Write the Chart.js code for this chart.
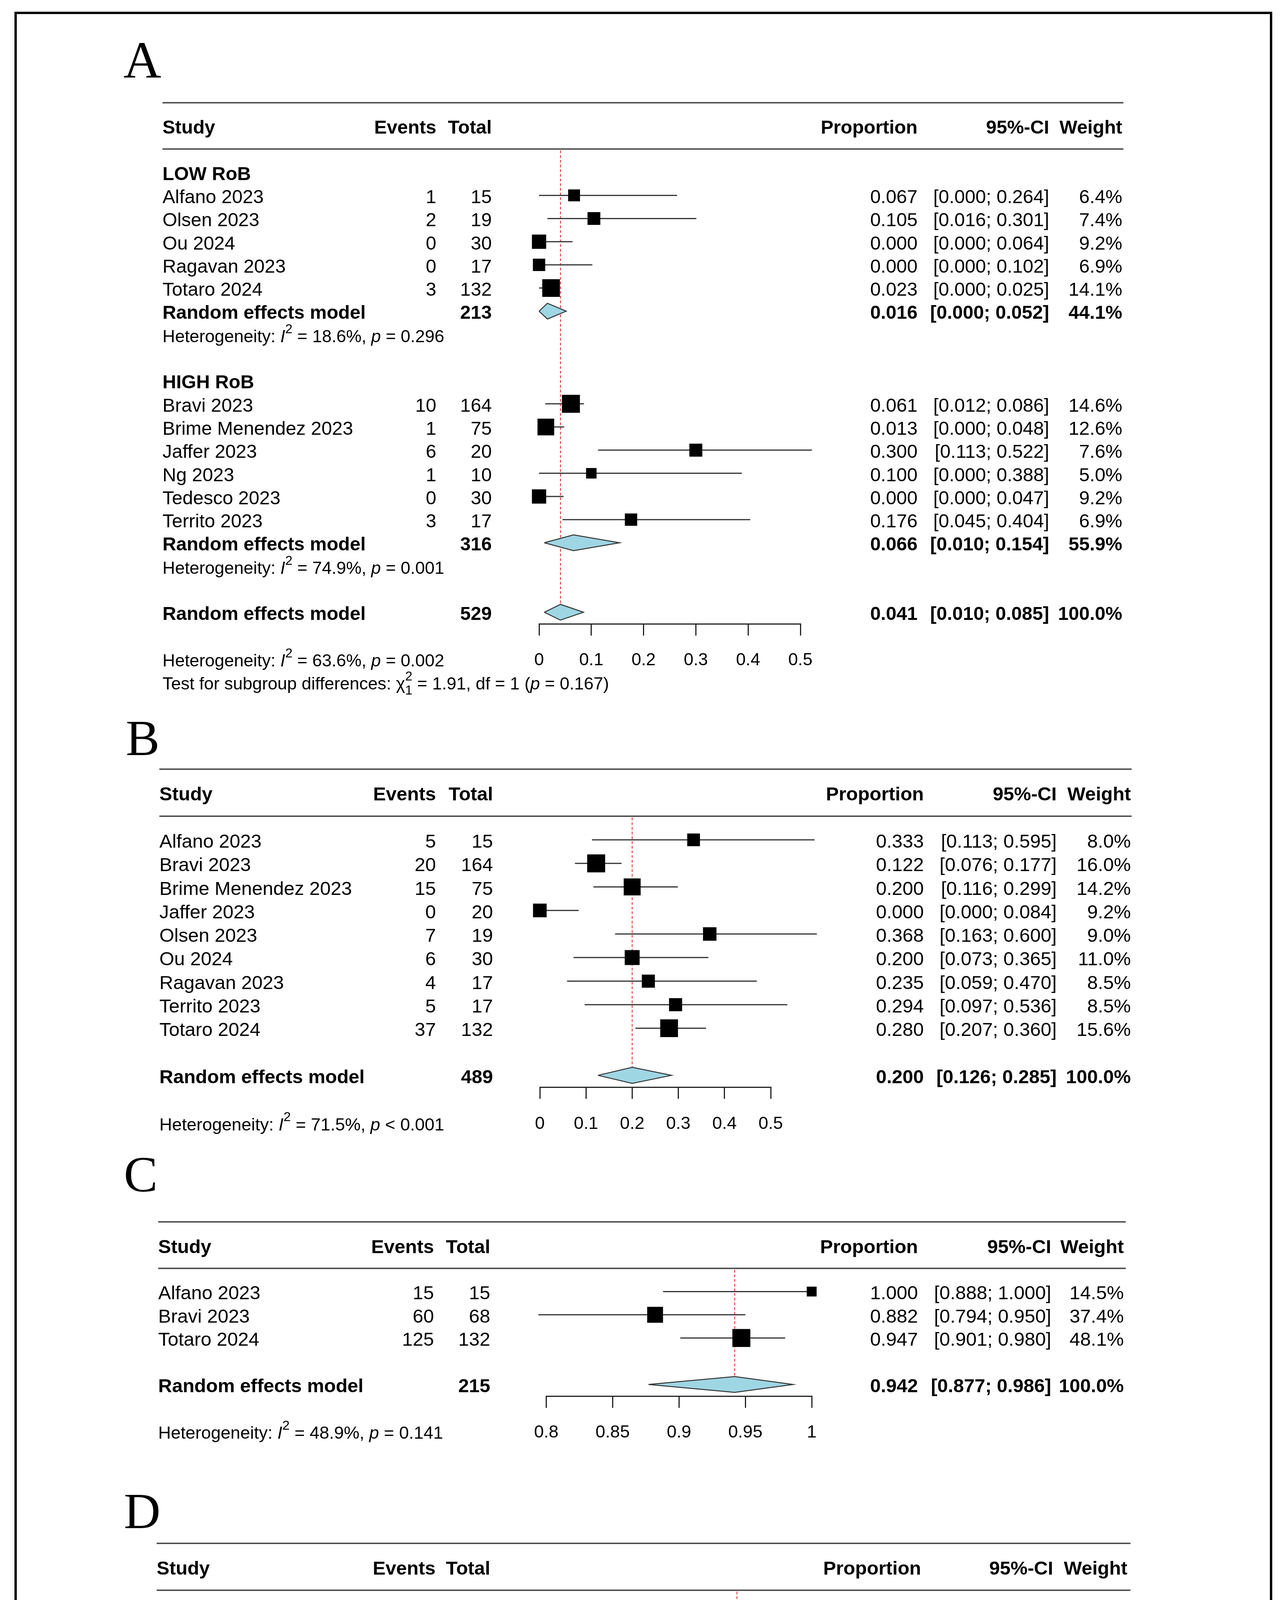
<!DOCTYPE html>
<html><head><meta charset="utf-8"><title>Forest plots A-D</title>
<script src="https://cdn.jsdelivr.net/npm/chart.js@4.4.1/dist/chart.umd.min.js"></script>
<style>
html,body{margin:0;padding:0;background:#fff}
body{position:relative;width:3282px;height:4883px;overflow:hidden}
#frame{position:absolute;left:37px;top:30px;width:3208px;height:4813px;border:6px solid #000}
canvas{position:absolute;left:0}
</style></head>
<body>
<div id="frame"></div>
<canvas id="chartA"></canvas><canvas id="chartB"></canvas><canvas id="chartC"></canvas><canvas id="chartD"></canvas>
<script>
// ================= DATA =================
// Panel A, subgroup LOW RoB
const aLowStudy  = ["Alfano 2023","Olsen 2023","Ou 2024","Ragavan 2023","Totaro 2024"];
const aLowEvents = [1,2,0,0,3];
const aLowTotal  = [15,19,30,17,132];
const aLowProp   = [0.067,0.105,0.000,0.000,0.023];
const aLowLower  = [0.000,0.016,0.000,0.000,0.000];
const aLowUpper  = [0.264,0.301,0.064,0.102,0.025];
const aLowWeight = [6.4,7.4,9.2,6.9,14.1];
const aLowModel  = [213,0.016,0.000,0.052,44.1];   // total, proportion, lower, upper, weight
const aLowHet    = ["18.6%","= 0.296"];
// Panel A, subgroup HIGH RoB
const aHighStudy  = ["Bravi 2023","Brime Menendez 2023","Jaffer 2023","Ng 2023","Tedesco 2023","Territo 2023"];
const aHighEvents = [10,1,6,1,0,3];
const aHighTotal  = [164,75,20,10,30,17];
const aHighProp   = [0.061,0.013,0.300,0.100,0.000,0.176];
const aHighLower  = [0.012,0.000,0.113,0.000,0.000,0.045];
const aHighUpper  = [0.086,0.048,0.522,0.388,0.047,0.404];
const aHighWeight = [14.6,12.6,7.6,5.0,9.2,6.9];
const aHighModel  = [316,0.066,0.010,0.154,55.9];
const aHighHet    = ["74.9%","= 0.001"];
// Panel A, overall
const aModel = [529,0.041,0.010,0.085,100.0];
const aHet   = ["63.6%","= 0.002"];
const aSubgroupTest = ["1.91","1","0.167"];  // chi-square, df, p
const aTicks = [0,0.1,0.2,0.3,0.4,0.5];

// Panel B
const bStudy  = ["Alfano 2023","Bravi 2023","Brime Menendez 2023","Jaffer 2023","Olsen 2023","Ou 2024","Ragavan 2023","Territo 2023","Totaro 2024"];
const bEvents = [5,20,15,0,7,6,4,5,37];
const bTotal  = [15,164,75,20,19,30,17,17,132];
const bProp   = [0.333,0.122,0.200,0.000,0.368,0.200,0.235,0.294,0.280];
const bLower  = [0.113,0.076,0.116,0.000,0.163,0.073,0.059,0.097,0.207];
const bUpper  = [0.595,0.177,0.299,0.084,0.600,0.365,0.470,0.536,0.360];
const bWeight = [8.0,16.0,14.2,9.2,9.0,11.0,8.5,8.5,15.6];
const bModel  = [489,0.200,0.126,0.285,100.0];
const bHet    = ["71.5%","< 0.001"];
const bTicks  = [0,0.1,0.2,0.3,0.4,0.5];

// Panel C
const cStudy  = ["Alfano 2023","Bravi 2023","Totaro 2024"];
const cEvents = [15,60,125];
const cTotal  = [15,68,132];
const cProp   = [1.000,0.882,0.947];
const cLower  = [0.888,0.794,0.901];
const cUpper  = [1.000,0.950,0.980];
const cWeight = [14.5,37.4,48.1];
const cModel  = [215,0.942,0.877,0.986,100.0];
const cHet    = ["48.9%","= 0.141"];
const cTicks  = [0.8,0.85,0.9,0.95,1];

// Panel D
const dStudy  = ["Bravi 2023","Brime Menendez 2023","Ng 2023","Olsen 2023","Ou 2024","Ragavan 2023","Totaro 2024"];
const dEvents = [133,66,8,11,23,17,100];
const dTotal  = [164,75,10,19,30,17,132];
const dProp   = [0.811,0.880,0.800,0.579,0.767,1.000,0.758];
const dLower  = [0.747,0.795,0.487,0.348,0.596,0.901,0.680];
const dUpper  = [0.868,0.945,0.995,0.794,0.903,1.000,0.827];
const dWeight = [21.3,18.2,6.9,10.3,13.1,9.7,20.6];
const dModel  = [447,0.819,0.738,0.889,100.0];
const dHet    = ["66.9%","= 0.006"];
const dTicks  = [0.4,0.5,0.6,0.7,0.8,0.9,1];

// ================= LAYOUT (pixels) =================
const SANS = '"Liberation Sans", Arial, Helvetica, sans-serif';
const SERIF = '"Liberation Serif", "Times New Roman", serif';
const PAGE_W = 3282;
const XAXIS_H = 140;
const TICK_LEN = 30;
const DIAMOND_HALF = 0.34;   // rows
const MAX_SQUARE = 46;       // px side of the heaviest study's square
const LAYOUT = {
  A:{canvasTop:40,  canvasH:1760, lineY:263,  axisY:1597, xMinPx:1380,   xMaxPx:2049,
     study:416, events:1117, total:1259, prop:2349, ci:2686, weight:2873, lineR:2876,
     fs:48.5, sfs:44.5, letterX:316, letterY:198,  letterSize:134},
  B:{canvasTop:1800, canvasH:1140, lineY:1969, axisY:2783, xMinPx:1382,   xMaxPx:1973,
     study:408, events:1116, total:1262, prop:2365, ci:2705, weight:2895, lineR:2897,
     fs:49, sfs:45, letterX:322, letterY:1933, letterSize:130},
  C:{canvasTop:2940, canvasH:820,  lineY:3128, axisY:3574, xMinPx:1398.5, xMaxPx:2078,
     study:405, events:1111, total:1255, prop:2350, ci:2691, weight:2877, lineR:2882,
     fs:49, sfs:45, letterX:317, letterY:3050, letterSize:130},
  D:{canvasTop:3760, canvasH:1070, lineY:3951, axisY:4641, xMinPx:1432,   xMaxPx:2083,
     study:401, events:1115, total:1255, prop:2358, ci:2696, weight:2886, lineR:2894,
     fs:49, sfs:45, letterX:317, letterY:3912, letterSize:130}
};

// ================= SPECS =================
const SPECS = {
  A:{groups:[
      {label:"LOW RoB", study:aLowStudy, events:aLowEvents, total:aLowTotal, prop:aLowProp, lower:aLowLower, upper:aLowUpper, weight:aLowWeight, model:aLowModel, het:aLowHet},
      {label:"HIGH RoB", study:aHighStudy, events:aHighEvents, total:aHighTotal, prop:aHighProp, lower:aHighLower, upper:aHighUpper, weight:aHighWeight, model:aHighModel, het:aHighHet}],
     overall:aModel, het:aHet, test:aSubgroupTest, ticks:aTicks},
  B:{groups:[{label:null, study:bStudy, events:bEvents, total:bTotal, prop:bProp, lower:bLower, upper:bUpper, weight:bWeight, model:null, het:null}],
     overall:bModel, het:bHet, test:null, ticks:bTicks},
  C:{groups:[{label:null, study:cStudy, events:cEvents, total:cTotal, prop:cProp, lower:cLower, upper:cUpper, weight:cWeight, model:null, het:null}],
     overall:cModel, het:cHet, test:null, ticks:cTicks},
  D:{groups:[{label:null, study:dStudy, events:dEvents, total:dTotal, prop:dProp, lower:dLower, upper:dUpper, weight:dWeight, model:null, het:null}],
     overall:dModel, het:dHet, test:null, ticks:dTicks}
};

const f3 = v => v.toFixed(3);
const ciStr = (lo,hi) => "[" + f3(lo) + "; " + f3(hi) + "]";
const pct = w => w.toFixed(1) + "%";
const modelItem = (m,row,overall) => ({type:"model", row, overall, tot:m[0], est:m[1], lo:m[2], hi:m[3], w:m[4]});

function buildRows(spec){
  const items = []; let r = 0;
  spec.groups.forEach(g => {
    if (g.label) items.push({type:"group", row:r++, text:g.label});
    g.study.forEach((s,i) => items.push({type:"study", row:r++, name:s, ev:g.events[i], tot:g.total[i],
      est:g.prop[i], lo:g.lower[i], hi:g.upper[i], w:g.weight[i]}));
    if (g.model){
      items.push(modelItem(g.model, r++, false));
      items.push({type:"het", row:r++, het:g.het});
    }
    r++;
  });
  const oRow = r;
  items.push(modelItem(spec.overall, oRow, true));
  items.push({type:"het", row:oRow+2, het:spec.het});
  if (spec.test) items.push({type:"test", row:oRow+3, test:spec.test});
  return {items, oRow, axisRow:oRow+0.5};
}

function drawRich(ctx, segs, x, y, size){
  let cx = x;
  ctx.textAlign = "left";
  segs.forEach(s => {
    const small = s.sup || s.sub;
    const sz = small ? size*0.75 : size;
    ctx.font = (s.italic ? "italic " : "") + sz + "px " + SANS;
    let dy = 0;
    if (s.sup) dy = -0.52*size;
    if (s.sub) dy = 0.28*size;
    ctx.fillText(s.t, cx, y+dy);
    if (!s.stack) cx += ctx.measureText(s.t).width;
  });
}

function tablePlugin(key, L, items){
  return {
    id:"table"+key,
    afterDraw(chart){
      const ctx = chart.ctx;
      const ys = chart.scales.y;
      const Y = r => ys.getPixelForValue(r);
      const base = r => Y(r) + 0.41*L.fs;
      const reg = L.fs + "px " + SANS, bold = "bold " + L.fs + "px " + SANS;
      const put = (t,x,y,align,font) => { ctx.font = font; ctx.textAlign = align; ctx.fillText(t,x,y); };
      ctx.save();
      ctx.fillStyle = "#000";
      ctx.textBaseline = "alphabetic";
      // panel letter
      put(key, L.letterX, L.letterY - L.canvasTop, "left", L.letterSize + "px " + SERIF);
      // header rules
      ctx.strokeStyle = "#444"; ctx.lineWidth = 3.5;
      [-3,-1].forEach(r => { ctx.beginPath(); ctx.moveTo(L.study, Y(r)); ctx.lineTo(L.lineR, Y(r)); ctx.stroke(); });
      // header labels
      const hb = base(-2);
      put("Study", L.study, hb, "left", bold);
      put("Events", L.events, hb, "right", bold);
      put("Total", L.total, hb, "right", bold);
      put("Proportion", L.prop, hb, "right", bold);
      put("95%-CI", L.ci, hb, "right", bold);
      put("Weight", L.weight, hb, "right", bold);
      items.forEach(it => {
        const b = base(it.row);
        if (it.type === "group") put(it.text, L.study, b, "left", bold);
        else if (it.type === "study"){
          put(it.name, L.study, b, "left", reg);
          put(String(it.ev), L.events, b, "right", reg);
          put(String(it.tot), L.total, b, "right", reg);
          put(f3(it.est), L.prop, b, "right", reg);
          put(ciStr(it.lo,it.hi), L.ci, b, "right", reg);
          put(pct(it.w), L.weight, b, "right", reg);
        } else if (it.type === "model"){
          put("Random effects model", L.study, b, "left", bold);
          put(String(it.tot), L.total, b, "right", bold);
          put(f3(it.est), L.prop, b, "right", bold);
          put(ciStr(it.lo,it.hi), L.ci, b, "right", bold);
          put(pct(it.w), L.weight, b, "right", bold);
        } else if (it.type === "het"){
          drawRich(ctx, [{t:"Heterogeneity: "},{t:"I",italic:true},{t:"2",sup:true},
            {t:" = " + it.het[0] + ", "},{t:"p",italic:true},{t:" " + it.het[1]}], L.study, b, L.sfs);
        } else if (it.type === "test"){
          drawRich(ctx, [{t:"Test for subgroup differences: "},{t:"\u03c7"},{t:"2",sup:true,stack:true},{t:"1",sub:true},
            {t:" = " + it.test[0] + ", df = " + it.test[1] + " ("},{t:"p",italic:true},{t:" = " + it.test[2] + ")"}], L.study, b, L.sfs);
        }
      });
      ctx.restore();
    }
  };
}

function drawPanel(key){
  const L = LAYOUT[key], spec = SPECS[key];
  const {items, oRow, axisRow} = buildRows(spec);
  const pitch = (L.axisY - L.lineY) / (axisRow + 3);
  const cv = document.getElementById("chart" + key);
  cv.width = PAGE_W; cv.height = L.canvasH;
  cv.style.top = L.canvasTop + "px"; cv.style.width = PAGE_W + "px"; cv.style.height = L.canvasH + "px";

  const studies = items.filter(i => i.type === "study");
  const models = items.filter(i => i.type === "model");
  const overall = models.find(m => m.overall);
  const wMax = Math.max(...studies.map(s => s.w));
  const ciData = [];
  studies.forEach(s => ciData.push({x:s.lo, y:s.row}, {x:s.hi, y:s.row}, {x:null, y:null}));

  const datasets = [
    {label:"reference", data:[{x:overall.est, y:-1+0.06}, {x:overall.est, y:oRow-DIAMOND_HALF}],
     showLine:true, borderColor:"#dd1f1f", borderWidth:2, borderDash:[7,5], pointRadius:0, clip:false, order:4},
    {label:"ci", data:ciData, showLine:true, spanGaps:false, borderColor:"#333", borderWidth:3,
     pointRadius:0, clip:false, order:3},
    {label:"estimate", data:studies.map(s => ({x:s.est, y:s.row})), showLine:false, pointStyle:"rect",
     pointRadius:studies.map(s => MAX_SQUARE*Math.sqrt(s.w/wMax)/Math.SQRT2),
     pointBackgroundColor:"#000", pointBorderColor:"#000", pointBorderWidth:0, clip:false, order:2}
  ];
  models.forEach(m => datasets.push({label:"diamond",
     data:[{x:m.lo,y:m.row},{x:m.est,y:m.row-DIAMOND_HALF},{x:m.hi,y:m.row},{x:m.est,y:m.row+DIAMOND_HALF},{x:m.lo,y:m.row}],
     showLine:true, fill:"shape", backgroundColor:"#9fd6e4", borderColor:"#333", borderWidth:2.5,
     borderJoinStyle:"miter", tension:0, pointRadius:0, clip:false, order:1}));

  const ticks = spec.ticks;
  const tfs = L.sfs;
  const labelBase = 1.5*pitch + 0.41*L.fs;
  const pad = labelBase - TICK_LEN - 0.6*tfs - 0.3465*tfs;

  new Chart(cv, {
    type:"scatter",
    data:{datasets},
    options:{
      responsive:false, maintainAspectRatio:false, devicePixelRatio:1, animation:false, events:[],
      layout:{padding:{left:L.xMinPx, right:PAGE_W-L.xMaxPx, top:L.lineY-L.canvasTop,
                       bottom:L.canvasH-(L.axisY-L.canvasTop)-XAXIS_H}},
      plugins:{legend:{display:false}, tooltip:{enabled:false}},
      scales:{
        x:{type:"linear", position:"bottom", min:ticks[0], max:ticks[ticks.length-1],
           afterBuildTicks:s => { s.ticks = ticks.map(v => ({value:v})); },
           afterFit:s => { s.height = XAXIS_H; },
           border:{display:true, color:"#222", width:3},
           grid:{display:true, drawOnChartArea:false, drawTicks:true, tickLength:TICK_LEN, tickWidth:3, tickColor:"#222", color:"#222", lineWidth:3},
           ticks:{autoSkip:false, maxRotation:0, minRotation:0, padding:pad, color:"#000",
                  font:{family:SANS, size:tfs}, callback:v => String(+Number(v).toFixed(4))}},
        y:{type:"linear", display:false, reverse:true, min:-3, max:axisRow}
      }
    },
    plugins:[tablePlugin(key, L, items)]
  });
}

["A","B","C","D"].forEach(drawPanel);
</script>
</body></html>
